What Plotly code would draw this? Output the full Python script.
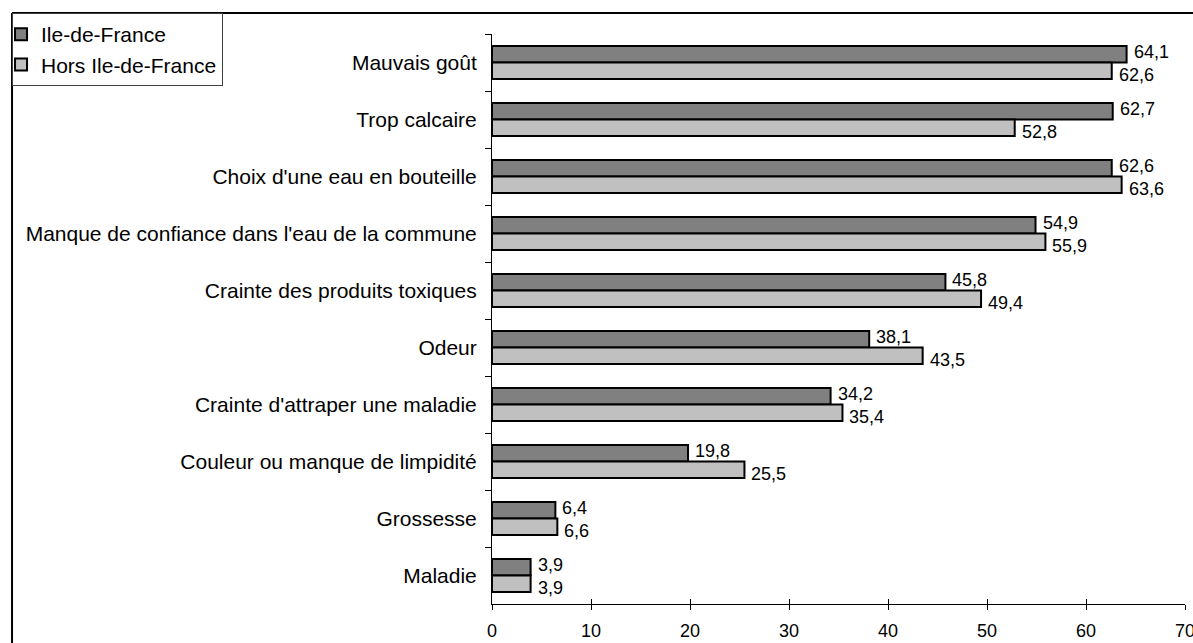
import plotly.graph_objects as go

categories = [
    "Mauvais goût",
    "Trop calcaire",
    "Choix d'une eau en bouteille",
    "Manque de confiance dans l'eau de la commune",
    "Crainte des produits toxiques",
    "Odeur",
    "Crainte d'attraper une maladie",
    "Couleur ou manque de limpidité",
    "Grossesse",
    "Maladie",
]
ile_de_france = [64.1, 62.7, 62.6, 54.9, 45.8, 38.1, 34.2, 19.8, 6.4, 3.9]
hors_ile_de_france = [62.6, 52.8, 63.6, 55.9, 49.4, 43.5, 35.4, 25.5, 6.6, 3.9]
x_ticks = [0, 10, 20, 30, 40, 50, 60, 70]

FONT = "Liberation Sans, Arial, sans-serif"

fig = go.Figure()
fig.add_trace(go.Bar(
    y=categories, x=ile_de_france, orientation="h", name="Ile-de-France",
    marker=dict(color="#808080", line=dict(color="black", width=2)),
))
fig.add_trace(go.Bar(
    y=categories, x=hors_ile_de_france, orientation="h", name="Hors Ile-de-France",
    marker=dict(color="#c0c0c0", line=dict(color="black", width=2)),
))
# helper trace so the overlay axis (inner half of the crossing ticks) is drawn
fig.add_trace(go.Scatter(x=[], y=[], xaxis="x2", showlegend=False, hoverinfo="skip"))

def fmt(v):
    return f"{v:.1f}".replace(".", ",")

annotations = []
for cat, v in zip(categories, ile_de_france):
    annotations.append(dict(x=v, y=cat, xref="x", yref="y", text=fmt(v), showarrow=False,
                            xanchor="left", yanchor="middle", xshift=5, yshift=11,
                            font=dict(family=FONT, size=18, color="black")))
for cat, v in zip(categories, hors_ile_de_france):
    annotations.append(dict(x=v, y=cat, xref="x", yref="y", text=fmt(v), showarrow=False,
                            xanchor="left", yanchor="middle", xshift=5, yshift=-12,
                            font=dict(family=FONT, size=18, color="black")))

fig.update_layout(
    template="none",
    width=1193, height=643,
    margin=dict(l=492, r=8, t=34, b=39, autoexpand=False),
    paper_bgcolor="white", plot_bgcolor="white",
    font=dict(family=FONT, size=21, color="black"),
    barmode="group", bargap=0.42, bargroupgap=0,
    annotations=annotations,
    xaxis=dict(range=[0, 70], tickvals=x_ticks, ticktext=[str(t) for t in x_ticks],
               automargin=False, ticklabeloverflow="allow",
               showgrid=False, zeroline=False, showline=True, linecolor="black", linewidth=1,
               ticks="outside", ticklen=5, tickcolor="black", tickwidth=1,
               tickfont=dict(family=FONT, size=18, color="black"), ticklabelstandoff=5),
    xaxis2=dict(range=[0, 70], tickvals=x_ticks, overlaying="x", anchor="y", side="bottom",
                automargin=False,
                showgrid=False, zeroline=False, showline=False, showticklabels=False,
                ticks="inside", ticklen=5, tickcolor="black", tickwidth=1),
    yaxis=dict(type="category", categoryorder="array", categoryarray=categories,
               autorange="reversed", showgrid=False, zeroline=False, automargin=False,
               showline=True, linecolor="black", linewidth=1,
               ticks="outside", ticklen=6, tickcolor="black", tickson="boundaries",
               tickfont=dict(family=FONT, size=21, color="black"), ticklabelstandoff=10),
    legend=dict(x=-0.6926, y=1.0367, xanchor="left", yanchor="top",
                bgcolor="white", bordercolor="#404040", borderwidth=1,
                font=dict(family=FONT, size=21, color="black"), traceorder="normal",
                itemwidth=30, indentation=-12),
    shapes=[
        dict(type="line", xref="paper", yref="paper", x0=-0.6926, x1=1.2, y0=1.0367, y1=1.0367,
             line=dict(color="black", width=2)),
        dict(type="line", xref="paper", yref="paper", x0=-0.6926, x1=-0.6926, y0=1.0367, y1=-0.3,
             line=dict(color="black", width=2)),
    ],
    showlegend=True,
)

fig.write_html(
    "out.html",
    config={"displayModeBar": False},
    post_script="document.body.style.margin='0';document.body.style.overflow='hidden';",
)
